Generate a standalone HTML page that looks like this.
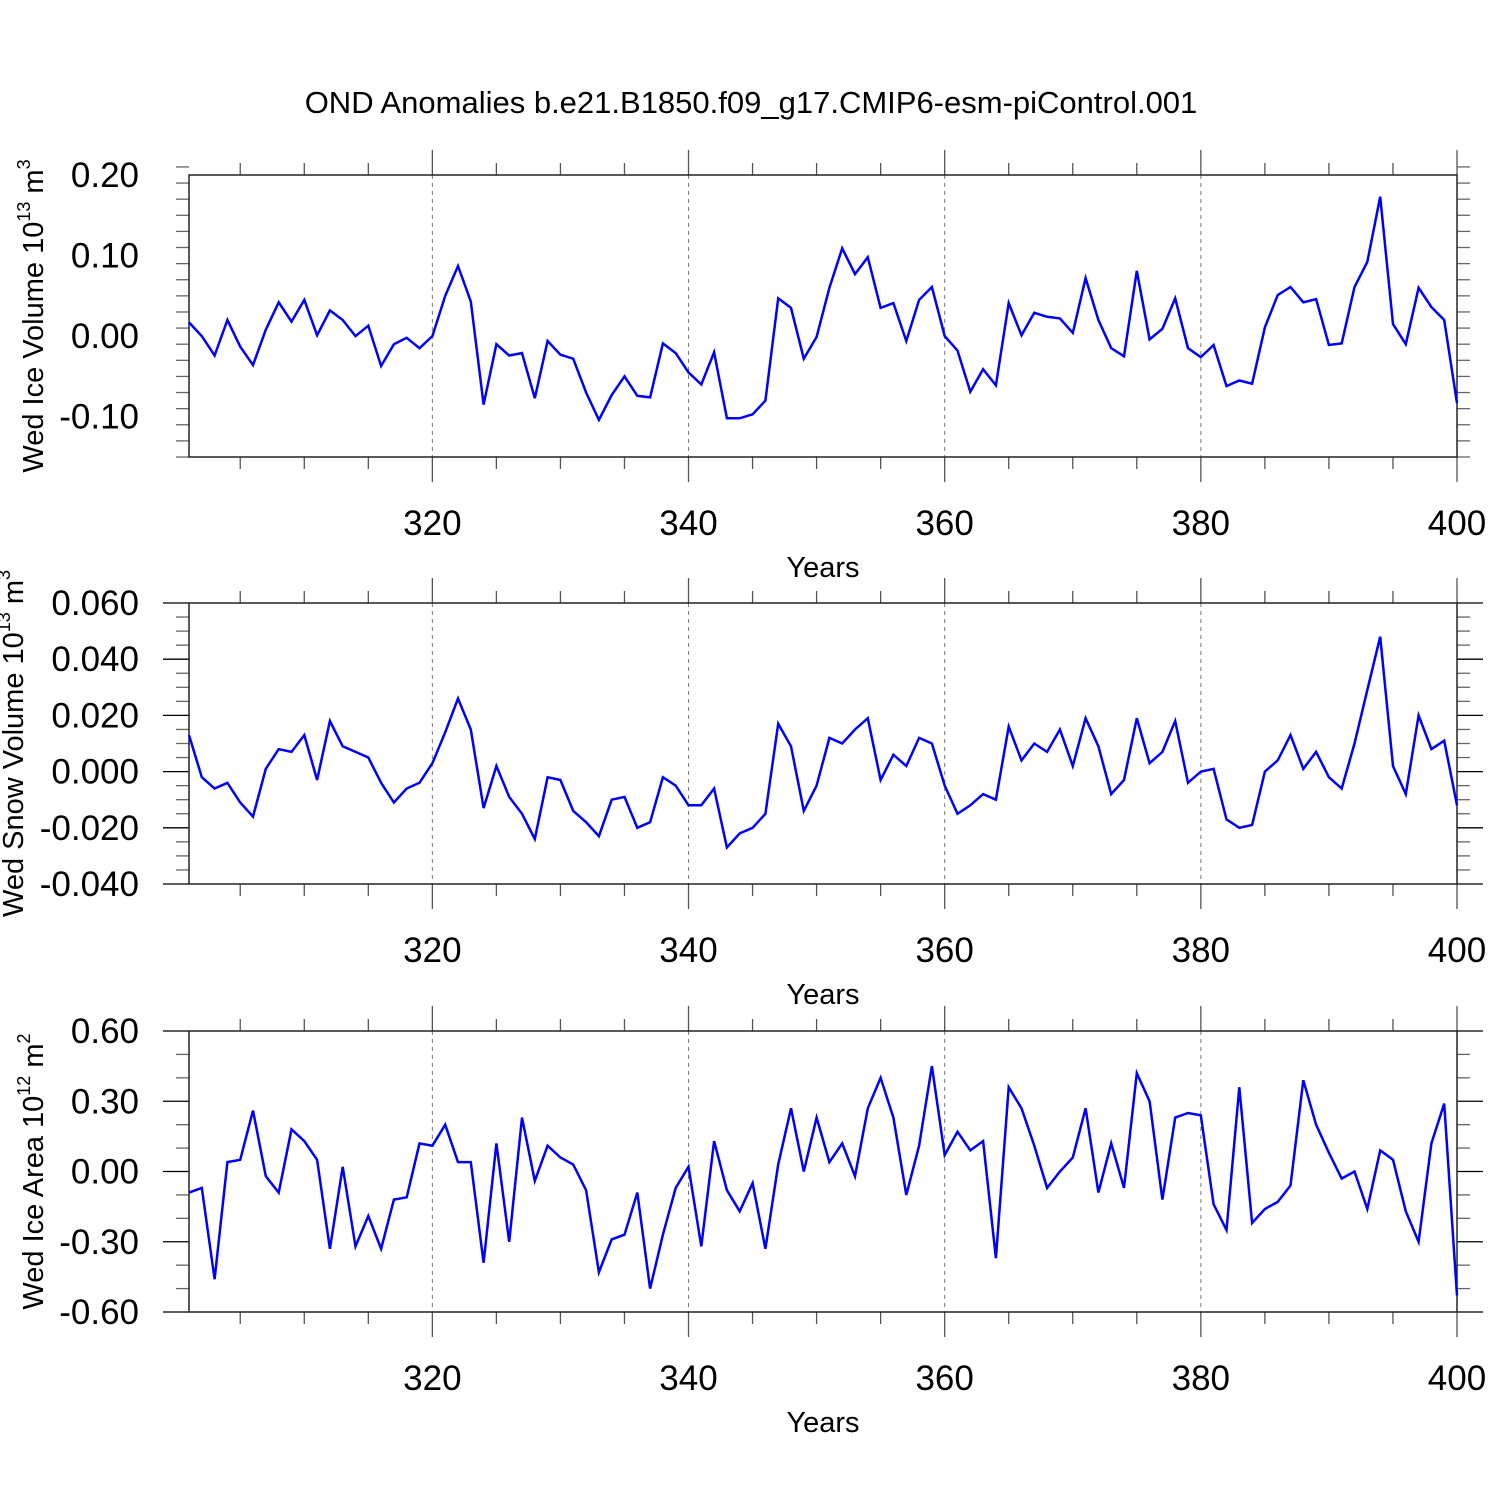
<!DOCTYPE html>
<html><head><meta charset="utf-8">
<style>body{margin:0;background:#fff}svg{display:block}text{font-family:"Liberation Sans",sans-serif;fill:#000}</style>
</head><body>
<svg id="chart" width="1500" height="1500" viewBox="0 0 1500 1500" xmlns="http://www.w3.org/2000/svg">
<text x="751" y="113" font-size="31" text-anchor="middle">OND Anomalies b.e21.B1850.f09_g17.CMIP6-esm-piControl.001</text>
</svg>
<script>
const years = Array.from({length:100},(_,i)=>301+i);
const xTickLabels = ["320","340","360","380","400"];
const iceVolume = [0.017,0.0,-0.024,0.02,-0.013,-0.036,0.008,0.042,0.018,0.045,0.001,0.032,0.02,0.0,0.013,-0.037,-0.01,-0.002,-0.015,0.0,0.05,0.087,0.043,-0.085,-0.01,-0.024,-0.021,-0.077,-0.006,-0.023,-0.028,-0.07,-0.104,-0.073,-0.05,-0.074,-0.076,-0.009,-0.021,-0.045,-0.06,-0.02,-0.102,-0.102,-0.097,-0.08,0.047,0.035,-0.028,-0.001,0.06,0.109,0.077,0.098,0.035,0.041,-0.006,0.045,0.061,0.0,-0.018,-0.069,-0.041,-0.061,0.041,0.001,0.029,0.024,0.022,0.004,0.072,0.02,-0.015,-0.025,0.081,-0.004,0.009,0.047,-0.015,-0.026,-0.011,-0.062,-0.055,-0.059,0.011,0.051,0.061,0.042,0.046,-0.011,-0.009,0.061,0.092,0.173,0.015,-0.01,0.06,0.036,0.02,-0.083];
const snowVolume = [0.013,-0.002,-0.006,-0.004,-0.011,-0.016,0.001,0.008,0.007,0.013,-0.003,0.018,0.009,0.007,0.005,-0.004,-0.011,-0.006,-0.004,0.003,0.014,0.026,0.015,-0.013,0.002,-0.009,-0.015,-0.024,-0.002,-0.003,-0.014,-0.018,-0.023,-0.01,-0.009,-0.02,-0.018,-0.002,-0.005,-0.012,-0.012,-0.006,-0.027,-0.022,-0.02,-0.015,0.017,0.009,-0.014,-0.005,0.012,0.01,0.015,0.019,-0.003,0.006,0.002,0.012,0.01,-0.005,-0.015,-0.012,-0.008,-0.01,0.016,0.004,0.01,0.007,0.015,0.002,0.019,0.009,-0.008,-0.003,0.019,0.003,0.007,0.018,-0.004,0.0,0.001,-0.017,-0.02,-0.019,0.0,0.004,0.013,0.001,0.007,-0.002,-0.006,0.01,0.029,0.048,0.002,-0.008,0.02,0.008,0.011,-0.012];
const iceArea = [-0.09,-0.07,-0.46,0.04,0.05,0.26,-0.02,-0.09,0.18,0.13,0.05,-0.33,0.02,-0.32,-0.19,-0.33,-0.12,-0.11,0.12,0.11,0.2,0.04,0.04,-0.39,0.12,-0.3,0.23,-0.04,0.11,0.06,0.03,-0.08,-0.43,-0.29,-0.27,-0.09,-0.5,-0.27,-0.07,0.02,-0.32,0.13,-0.08,-0.17,-0.05,-0.33,0.03,0.27,0.0,0.23,0.04,0.12,-0.02,0.27,0.4,0.23,-0.1,0.11,0.45,0.07,0.17,0.09,0.13,-0.37,0.36,0.27,0.11,-0.07,0.0,0.06,0.27,-0.09,0.12,-0.07,0.42,0.3,-0.12,0.23,0.25,0.24,-0.14,-0.25,0.36,-0.22,-0.16,-0.13,-0.06,0.39,0.2,0.08,-0.03,0.0,-0.16,0.09,0.05,-0.17,-0.3,0.12,0.29,-0.53];
const yTicks1 = ["0.20","0.10","0.00","-0.10"];
const yTicks2 = ["0.060","0.040","0.020","0.000","-0.020","-0.040"];
const yTicks3 = ["0.60","0.30","0.00","-0.30","-0.60"];

const svg=document.getElementById('chart');
const NS="http://www.w3.org/2000/svg";
function mk(tag,attrs,parent){const e=document.createElementNS(NS,tag);for(const k in attrs)e.setAttribute(k,attrs[k]);(parent||svg).appendChild(e);return e;}
const X0=189,X1=1457,XMIN=301,XMAX=400;
const xs=v=>X0+(v-XMIN)/(XMAX-XMIN)*(X1-X0);

const panels=[
 {name:'ice-volume',top:175,bot:457,ymin:-0.15,ymax:0.20,ticks:yTicks1,minor:0.02,data:iceVolume,tx:43,title:['Wed Ice Volume 10','13',' m','3']},
 {name:'snow-volume',top:603,bot:884,ymin:-0.04,ymax:0.06,ticks:yTicks2,minor:0.005,data:snowVolume,tx:23,title:['Wed Snow Volume 10','13',' m','3']},
 {name:'ice-area',top:1031,bot:1312,ymin:-0.6,ymax:0.6,ticks:yTicks3,minor:0.1,data:iceArea,tx:43,title:['Wed Ice Area 10','12',' m','2']}
];
panels.forEach(p=>{
 const g=mk('g',{});
 
 
 const ys=v=>p.bot-(v-p.ymin)/(p.ymax-p.ymin)*(p.bot-p.top);
 xTickLabels.forEach(t=>{const x=xs(+t);if(x<X1-1){const l=mk('line',{x1:x,x2:x,y1:p.top,y2:p.bot,stroke:'#777','stroke-width':1,'stroke-dasharray':'4,4'},g);}});
 for(let yr=305;yr<=400;yr+=5){const x=xs(yr);const major=yr%20===0;const L=major?25:12;
  const a=mk('line',{x1:x,x2:x,y1:p.top,y2:p.top-L,stroke:'#555','stroke-width':1.3},g);
  const b=mk('line',{x1:x,x2:x,y1:p.bot,y2:p.bot+L,stroke:'#555','stroke-width':1.3},g);}
 xTickLabels.forEach(t=>{const tx=mk('text',{x:xs(+t),y:p.bot+78,'font-size':35,'text-anchor':'middle'},g);tx.textContent=t;});
 const xt=mk('text',{x:823,y:p.bot+120,'font-size':29,'text-anchor':'middle'},g);xt.textContent='Years';
 
 
 const n=Math.round((p.ymax-p.ymin)/p.minor);
 for(let i=0;i<=n;i++){const v=p.ymin+i*p.minor;const y=ys(v);
  const isMajor=p.ticks.some(t=>Math.abs(+t-v)<1e-9);const L=isMajor?26:13;
  const a=mk('line',{x1:X0,x2:X0-L,y1:y,y2:y,stroke:isMajor?'#000':'#666','stroke-width':1.3},g);
  const b=mk('line',{x1:X1,x2:X1+L,y1:y,y2:y,stroke:isMajor?'#000':'#666','stroke-width':1.3},g);}
 p.ticks.forEach(t=>{const tx=mk('text',{x:139,y:ys(+t)+12,'font-size':35,'text-anchor':'end'},g);tx.textContent=t;});
 const r=mk('rect',{x:X0,y:p.top,width:X1-X0,height:p.bot-p.top,fill:'none',stroke:'#222','stroke-width':1.5},g);
 
 
 const cy=(p.top+p.bot)/2;
 const tt=mk('text',{x:0,y:0,'font-size':29,'text-anchor':'middle',transform:`translate(${p.tx},${cy}) rotate(-90)`},g);
 
 
 const parts=p.title;
 [[parts[0],0],[parts[1],1],[parts[2],0],[parts[3],1]].forEach(([s,sup])=>{const ts=document.createElementNS(NS,'tspan');if(sup){ts.setAttribute('font-size','18');ts.setAttribute('dy','-13');}else if(s!==parts[0]){ts.setAttribute('dy','13');}ts.textContent=s;tt.appendChild(ts);});
 const d=p.data.map((v,i)=>(i?'L':'M')+xs(years[i]).toFixed(1)+','+ys(v).toFixed(1)).join(' ');
 const pl=mk('path',{d:d,fill:'none',stroke:'#0000ff','stroke-width':2.5,'stroke-linejoin':'miter'},g);
 
 
});
</script>
</body></html>
